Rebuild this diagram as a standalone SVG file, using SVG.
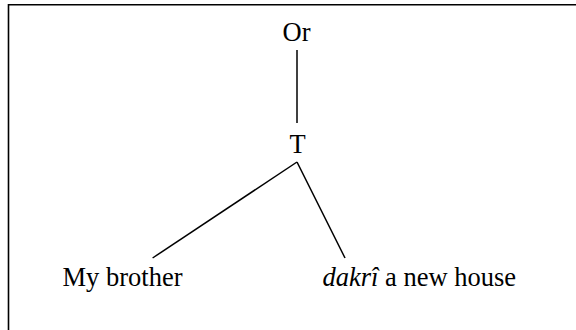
<svg xmlns="http://www.w3.org/2000/svg" width="576" height="330" viewBox="0 0 576 330">
<style>
.t{font-family:"Liberation Serif","Times New Roman",serif;font-size:26.5px;fill:#000}
.e{stroke:#000;stroke-width:1.5;fill:none}
</style>
<rect width="576" height="330" fill="#fff"/>
<path d="M8.5,330 V4.7 H576" fill="none" stroke="#000" stroke-width="1.6"/>
<g id="edges">
<line class="e" x1="297" y1="50" x2="297" y2="123"/>
<line class="e" x1="297" y1="162" x2="152.6" y2="258"/>
<line class="e" x1="297" y1="162" x2="345" y2="258"/>
</g>
<g id="n-or"><text class="t" x="296.5" y="41" text-anchor="middle">Or</text></g>
<g id="n-t"><text class="t" x="297.5" y="153" text-anchor="middle">T</text></g>
<g id="n-brother"><text class="t" x="62.5" y="286">My brother</text></g>
<g id="n-dakri"><text class="t" x="322.5" y="286"><tspan font-style="italic">dakrî</tspan> a new house</text></g>
</svg>
